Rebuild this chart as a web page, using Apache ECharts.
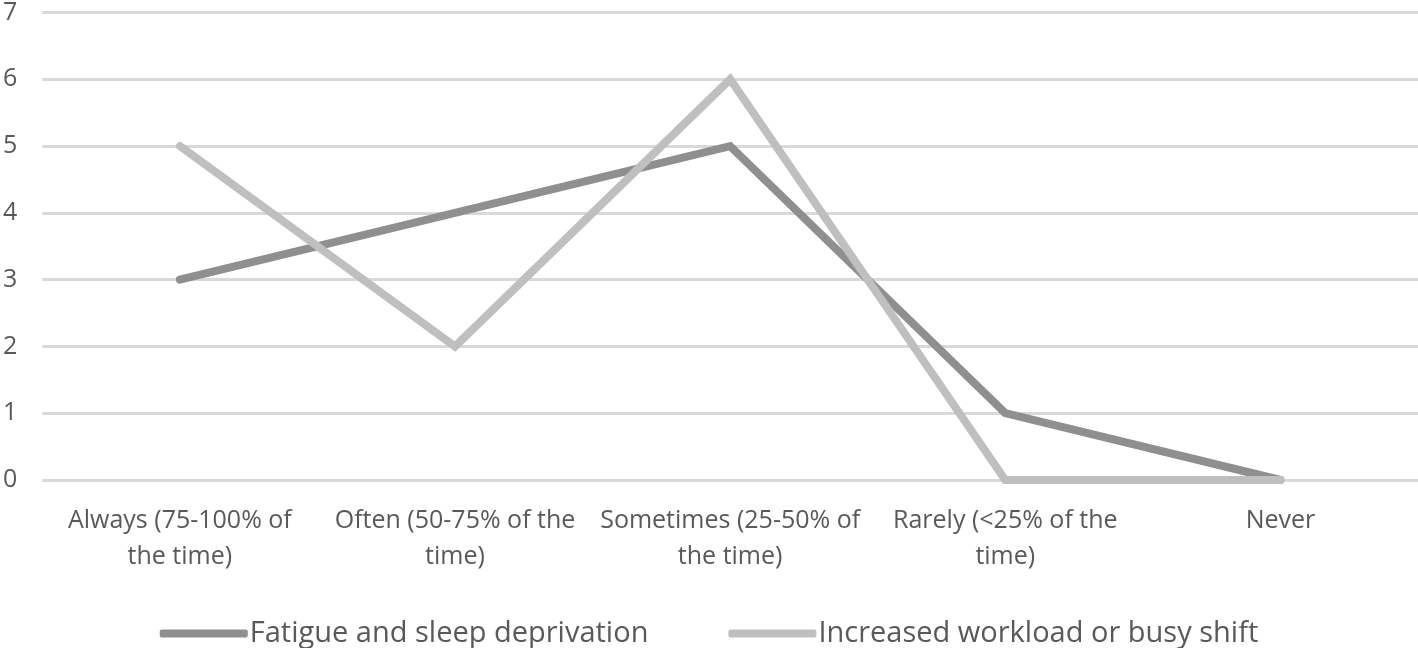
<!DOCTYPE html>
<html><head><meta charset="utf-8">
<script src="https://cdn.jsdelivr.net/npm/echarts@6/dist/echarts.min.js"></script>
<style>html,body{margin:0;padding:0;background:#fff}#c{width:1418px;height:648px}</style>
</head><body><div id="c"></div>
<script>
const categories = ["Always (75-100% of\nthe time)", "Often (50-75% of the\ntime)", "Sometimes (25-50% of\nthe time)", "Rarely (<25% of the\ntime)", "Never"];
const fatigue = [3, 4, 5, 1, 0];
const workload = [5, 2, 6, 0, 0];
const seriesNames = ["Fatigue and sleep deprivation", "Increased workload or busy shift"];
const FONT = "'Open Sans', sans-serif";
const chart = echarts.init(document.getElementById('c'), null, {renderer: 'canvas'});
chart.setOption({
  animation: false,
  grid: {left: 41, right: -2, top: 9, bottom: 168, containLabel: false},
  legend: {
    bottom: -5, left: 'center', itemWidth: 88, itemHeight: 8, itemGap: 80,
    icon: 'roundRect',
    textStyle: {color: '#595959', fontSize: 29, fontFamily: FONT, padding: [0, 0, 0, -3]},
    data: seriesNames
  },
  xAxis: {
    type: 'category', data: categories, boundaryGap: true,
    axisLine: {show: false}, axisTick: {show: false},
    axisLabel: {color: '#595959', fontSize: 25, fontFamily: FONT, margin: 23, lineHeight: 36, interval: 0}
  },
  yAxis: {
    type: 'value', min: 0, max: 7, interval: 1,
    axisLine: {show: false}, axisTick: {show: false},
    axisLabel: {color: '#595959', fontSize: 25, fontFamily: FONT, margin: 25},
    splitLine: {lineStyle: {color: '#d9d9d9', width: 3}}
  },
  series: [
    {name: seriesNames[0], type: 'line', data: fatigue, symbol: 'none', color: '#8f8f8f',
     lineStyle: {width: 8, color: '#8f8f8f', cap: 'round', join: 'miter'}},
    {name: seriesNames[1], type: 'line', data: workload, symbol: 'none', color: '#bfbfbf',
     lineStyle: {width: 8, color: '#bfbfbf', cap: 'round', join: 'miter'}}
  ]
});
</script></body></html>
